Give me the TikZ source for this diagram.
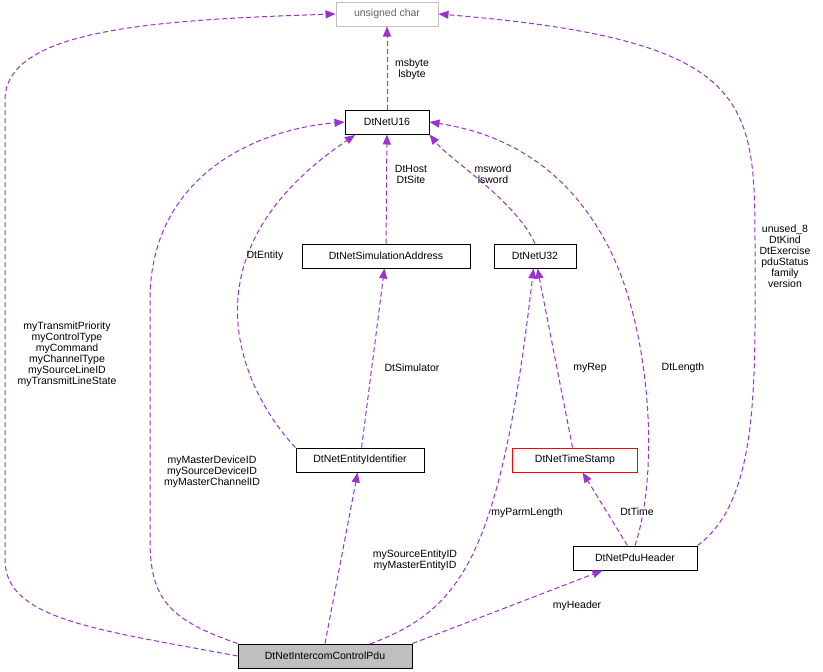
\documentclass[tikz,border=0pt]{standalone}
\usepackage{fontspec}
\setmainfont{Liberation Sans}
\usetikzlibrary{arrows.meta}
\definecolor{pur}{RGB}{154,50,205}
\definecolor{gr}{RGB}{191,191,191}
\begin{document}
\begin{tikzpicture}[x=1pt,y=-1pt,
  box/.style={draw=black,fill=white,minimum height=24,inner sep=2,line width=1pt,font=\fontsize{10.5}{12}\selectfont},
  edge/.style={draw=pur,line width=1pt,dash pattern=on 5pt off 3pt,-{Triangle[length=10pt,width=8pt,fill=pur]}},
  lab/.style={align=center,font=\fontsize{10.5}{11}\selectfont,inner sep=1}]
\useasboundingbox (0,0) rectangle (823,672);
\node[box,draw=gr,text={rgb,255:red,100;green,100;blue,100},minimum width=102] (uc) at (387,14) {unsigned char};
\node[box,minimum width=84] (u16) at (387,122) {DtNetU16};
\node[box,minimum width=168] (sa) at (386,256) {DtNetSimulationAddress};
\node[box,minimum width=82] (u32) at (535,256) {DtNetU32};
\node[box,minimum width=128] (ei) at (360,460) {DtNetEntityIdentifier};
\node[box,draw=red,minimum width=125] (ts) at (575,460) {DtNetTimeStamp};
\node[box,minimum width=124] (ph) at (635,558) {DtNetPduHeader};
\node[box,fill=gr,minimum width=174] (ic) at (325,656) {DtNetIntercomControlPdu};
\coordinate (icp) at (370,644);

\draw[edge] (u16) -- (uc);
\node[lab] (l1) at (412,69) {msbyte\\lsbyte};
\draw[edge] (sa) -- (u16);
\node[lab] (l2) at (411,174) {DtHost\\DtSite};
\draw[edge] (u32.north) .. controls (515,200) and (450,160) .. (u16.south east);
\node[lab] (l3) at (493,174) {msword\\lsword};
\draw[edge] (ei) -- (sa);
\node[lab] (l4) at (412,368) {DtSimulator};
\draw[edge] (ei.north west) .. controls (250,400) and (170,260) .. (355,135);
\node[lab] (l5) at (265,256) {DtEntity};
\draw[edge] (ts) -- (u32);
\node[lab] (l6) at (590,368) {myRep};
\draw[edge] (ph) -- (ts);
\node[lab] (l7) at (637,512) {DtTime};
\draw[edge] (ph.north) .. controls (660,470) and (650,330) .. (610,250) .. controls (560,150) and (480,130) .. (u16.east);
\node[lab] (l8) at (683,368) {DtLength};
\draw[edge] (ph.north east) .. controls (760,500) and (755,380) .. (755,250) .. controls (755,100) and (755,40) .. (uc.east);
\node[lab] (l9) at (785,256) {unused\_8\\DtKind\\DtExercise\\pduStatus\\family\\version};
\draw[edge] (ic.west) .. controls (100,630) and (5,620) .. (5,560) -- (5,100) .. controls (5,30) and (150,20) .. (uc.west);
\node[lab] (l10) at (67,354) {myTransmitPriority\\myControlType\\myCommand\\myChannelType\\mySourceLineID\\myTransmitLineState};
\draw[edge] (ic.north west) .. controls (170,620) and (150,600) .. (150,540) -- (150,300) .. controls (150,180) and (250,130) .. (u16.west);
\node[lab] (l11) at (212,472) {myMasterDeviceID\\mySourceDeviceID\\myMasterChannelID};
\draw[edge] (ic.north) -- (ei);
\node[lab] (l12) at (415,560) {mySourceEntityID\\myMasterEntityID};
\draw[edge] (icp) .. controls (460,610) and (500,560) .. (u32);
\node[lab] (l13) at (527,513) {myParmLength};
\draw[edge] (ic.north east) -- (ph);
\node[lab] (l14) at (577,606) {myHeader};
\end{tikzpicture}
\end{document}
